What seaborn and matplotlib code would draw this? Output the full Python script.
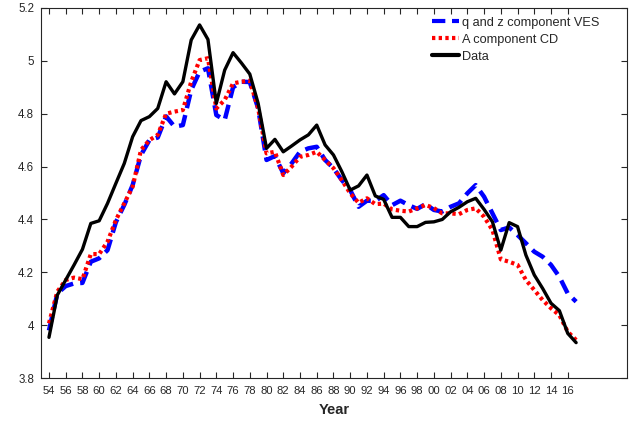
import numpy as np
import pandas as pd
import matplotlib
matplotlib.use("Agg")
import matplotlib.pyplot as plt
import seaborn as sns
from matplotlib.ticker import FuncFormatter

years = list(range(1954, 2018))

data = [3.954, 4.114, 4.171, 4.228, 4.287, 4.385, 4.395, 4.461, 4.537, 4.612,
        4.713, 4.774, 4.789, 4.820, 4.921, 4.875, 4.921, 5.079, 5.136, 5.081,
        4.839, 4.965, 5.031, 4.992, 4.950, 4.839, 4.669, 4.703, 4.656, 4.678,
        4.701, 4.720, 4.757, 4.682, 4.644, 4.581, 4.511, 4.527, 4.568, 4.489,
        4.476, 4.408, 4.408, 4.373, 4.373, 4.389, 4.391, 4.400, 4.429, 4.446,
        4.467, 4.480, 4.438, 4.391, 4.284, 4.388, 4.373, 4.265, 4.190, 4.139,
        4.083, 4.055, 3.969, 3.934]

cd = [4.007, 4.127, 4.171, 4.180, 4.174, 4.269, 4.269, 4.316, 4.398, 4.461,
      4.524, 4.663, 4.700, 4.720, 4.800, 4.808, 4.814, 4.921, 5.003, 5.010,
      4.820, 4.852, 4.915, 4.921, 4.925, 4.820, 4.650, 4.656, 4.568, 4.600,
      4.637, 4.644, 4.656, 4.625, 4.594, 4.549, 4.499, 4.463, 4.480, 4.458,
      4.460, 4.438, 4.433, 4.430, 4.442, 4.455, 4.443, 4.423, 4.423, 4.420,
      4.436, 4.442, 4.410, 4.360, 4.249, 4.240, 4.228, 4.171, 4.133, 4.095,
      4.064, 4.038, 3.975, 3.944]

ves = [3.980, 4.120, 4.148, 4.158, 4.160, 4.240, 4.253, 4.284, 4.390, 4.455,
       4.530, 4.644, 4.700, 4.710, 4.790, 4.751, 4.757, 4.890, 4.959, 4.972,
       4.795, 4.776, 4.900, 4.921, 4.920, 4.820, 4.625, 4.640, 4.575, 4.612,
       4.656, 4.669, 4.675, 4.625, 4.594, 4.549, 4.511, 4.448, 4.471, 4.470,
       4.492, 4.454, 4.471, 4.454, 4.440, 4.458, 4.436, 4.430, 4.448, 4.461,
       4.499, 4.530, 4.486, 4.423, 4.360, 4.370, 4.341, 4.310, 4.278, 4.259,
       4.228, 4.183, 4.120, 4.089]

labels = ["q and z component VES", "A component CD", "Data"]

df = pd.DataFrame({"Year": years, "ves": ves, "cd": cd, "data": data})

sns.set_theme(style="white")
plt.rcParams["font.family"] = ["Liberation Sans", "DejaVu Sans"]

fig = plt.figure(figsize=(6.35, 4.21), dpi=100)
ax = fig.add_axes([0.0646, 0.102, 0.9224, 0.879])

sns.lineplot(data=df, x="Year", y="ves", ax=ax, color="#0000ff", linewidth=3.2,
             label=labels[0])
ax.lines[-1].set_dashes([3.2, 1.6])
sns.lineplot(data=df, x="Year", y="cd", ax=ax, color="#ff0000", linewidth=3.0,
             label=labels[1])
ax.lines[-1].set_linestyle((0, (0.8, 0.8)))
sns.lineplot(data=df, x="Year", y="data", ax=ax, color="black", linewidth=2.4,
             label=labels[2])

ax.set_xlim(1953.05, 2023.05)
ax.set_ylim(3.8, 5.2)
ax.set_xticks(list(range(1954, 2017, 2)))
ax.xaxis.set_major_formatter(FuncFormatter(lambda v, p: f"{int(round(v)) % 100:02d}"))
ax.set_yticks([3.8, 4.0, 4.2, 4.4, 4.6, 4.8, 5.0, 5.2])
ax.yaxis.set_major_formatter(FuncFormatter(lambda v, p: f"{v:g}"))
ax.tick_params(axis="both", direction="in", length=4.5, width=0.8, color="#262626",
               labelsize=8.3, labelcolor="#262626", top=True, right=True,
               bottom=True, left=True)
ax.tick_params(axis="x", pad=5.5, labelsize=8.1)
ax.tick_params(axis="y", pad=5)
for s in ax.spines.values():
    s.set_color("#262626")
    s.set_linewidth(0.8)
ax.set_xlabel("Year", fontsize=10.5, fontweight="bold", color="#262626", labelpad=5)
ax.set_ylabel("")

leg = ax.legend(loc="upper left", bbox_to_anchor=(0.668, 0.976), frameon=False,
                fontsize=9.2, handlelength=2.1, handletextpad=0.25,
                labelspacing=0.38, borderaxespad=0.0, borderpad=0.0)
for h in leg.get_lines():
    h.set_linewidth(3.0)
for t in leg.get_texts():
    t.set_color("#262626")

fig.savefig("out.png", dpi=100)
